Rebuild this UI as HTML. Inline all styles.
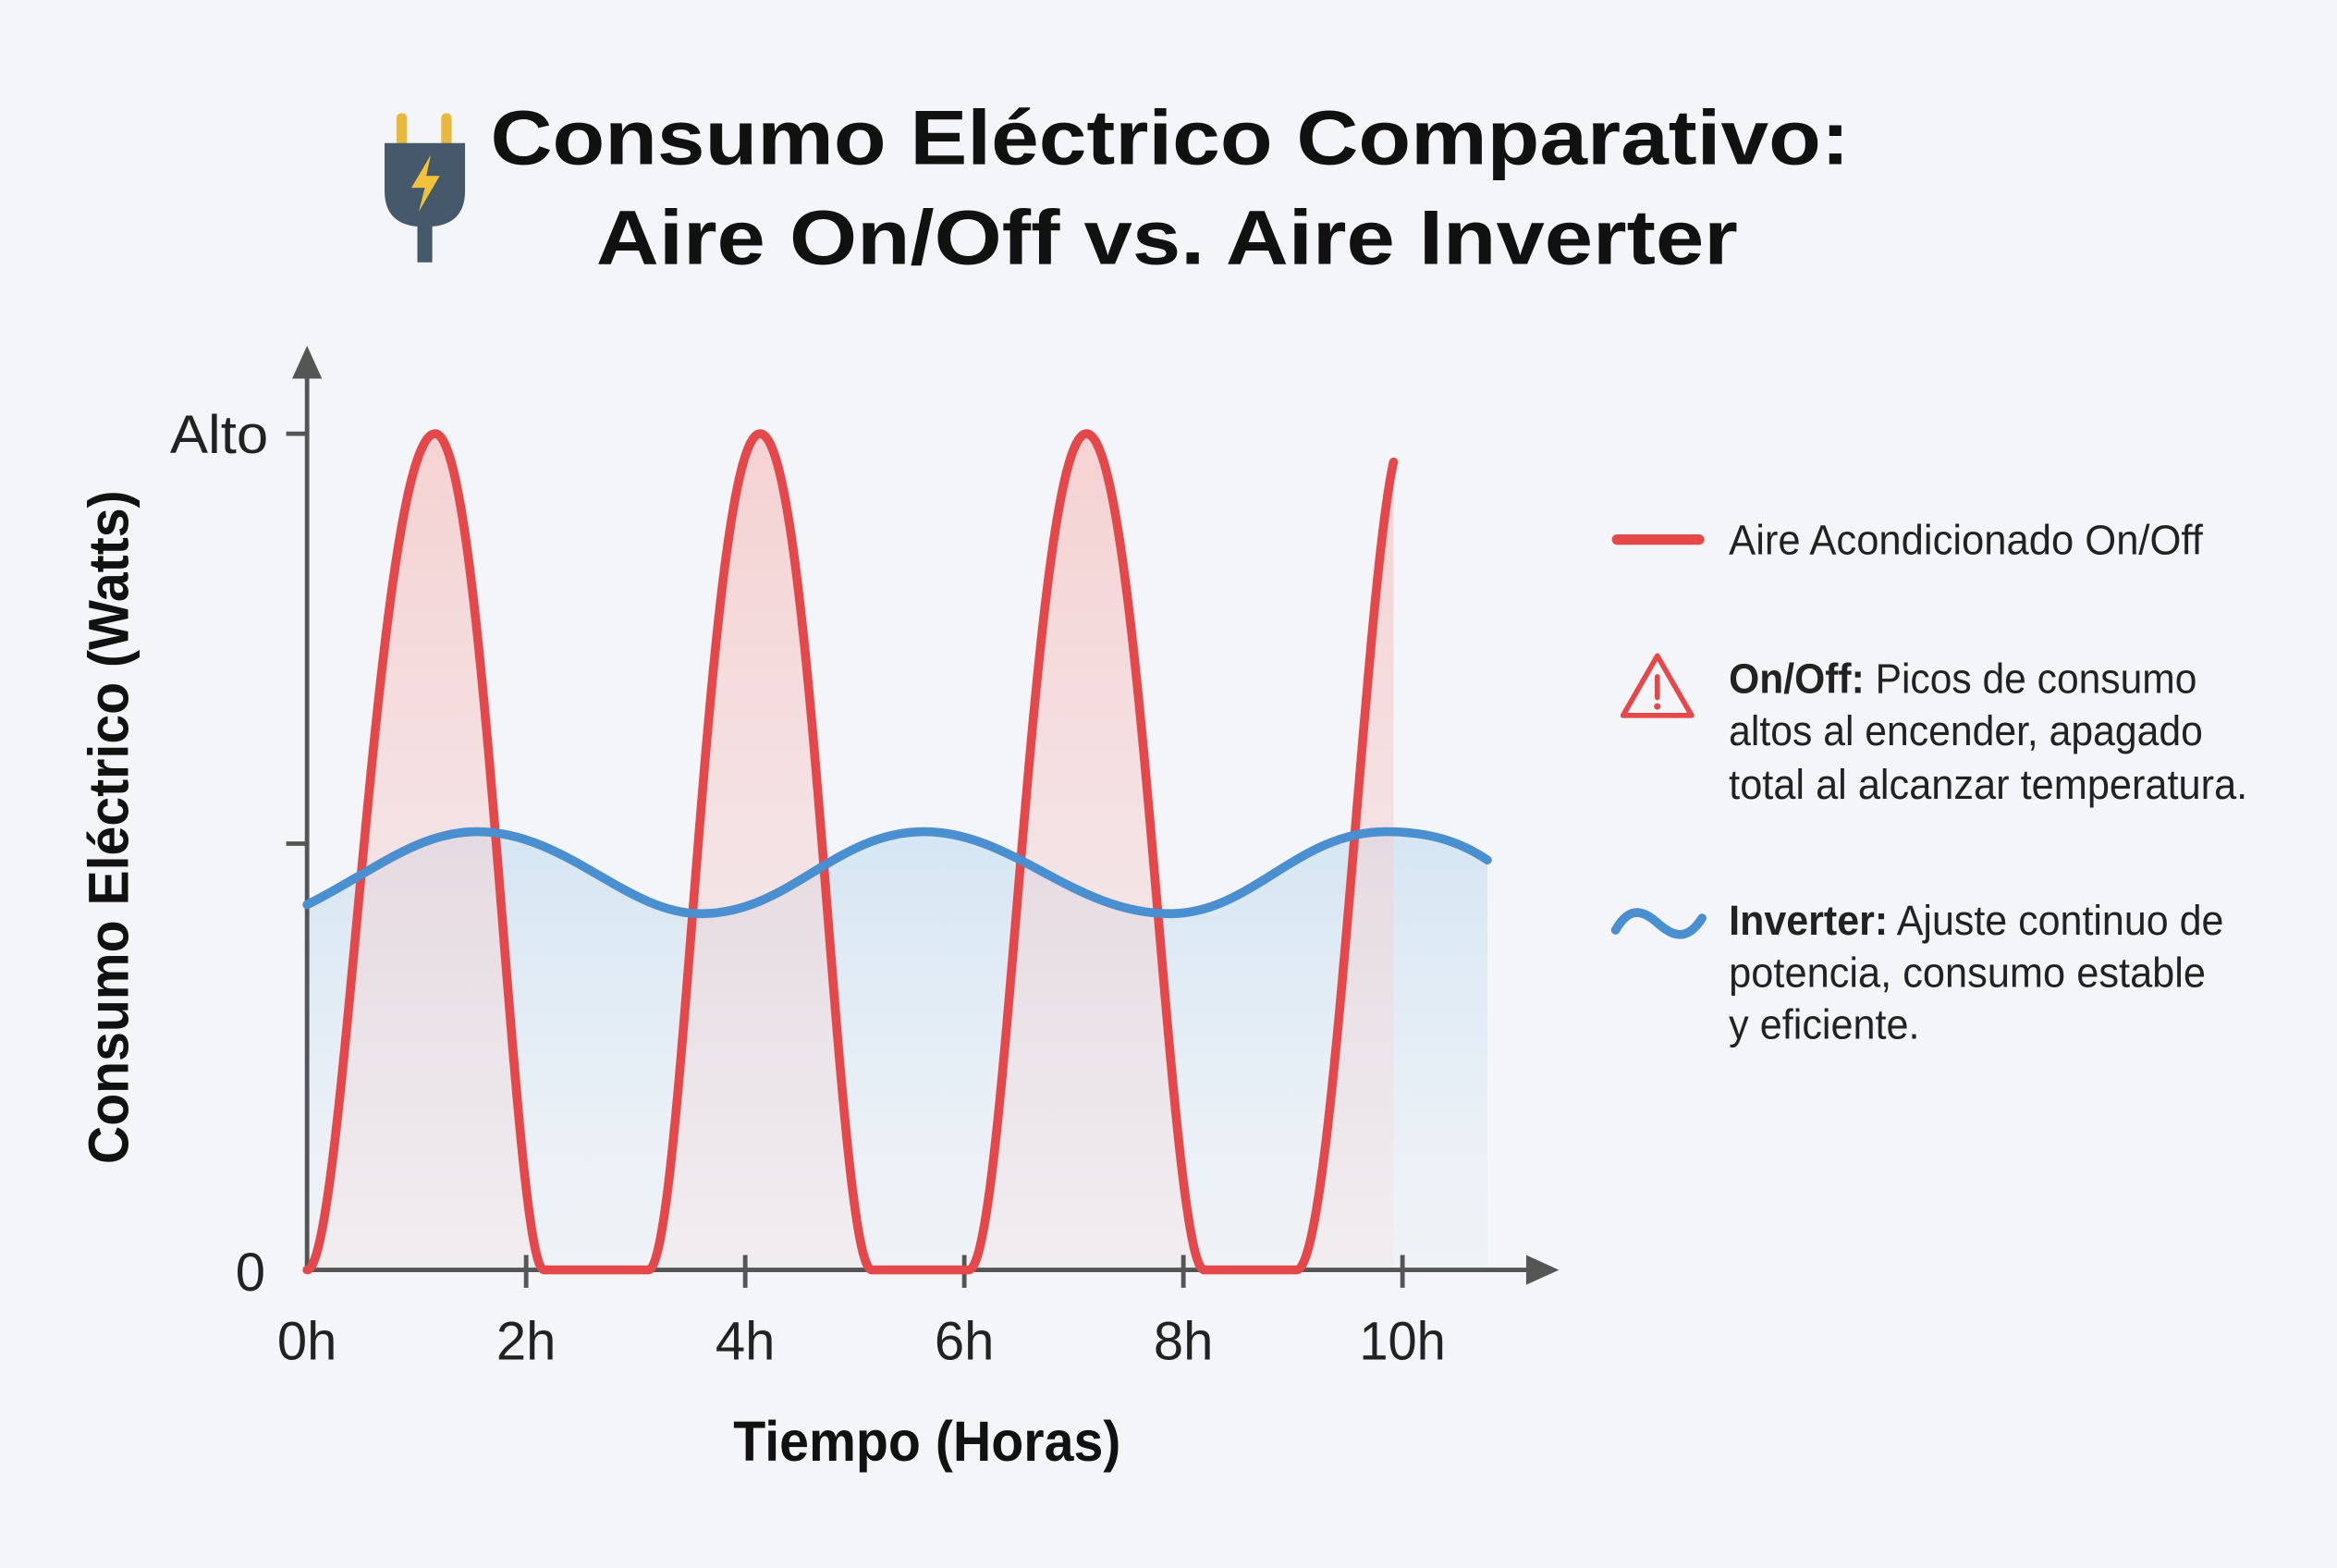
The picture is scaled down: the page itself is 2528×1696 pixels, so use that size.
<!DOCTYPE html>
<html><head><meta charset="utf-8"><style>
html,body{margin:0;padding:0;background:#f3f5f8;}
svg{display:block}
text{font-family:"Liberation Sans",sans-serif;}
</style></head><body>
<svg width="2528" height="1696" viewBox="0 0 1568 1052" xmlns="http://www.w3.org/2000/svg">
<defs>
<linearGradient id="rg" x1="0" y1="0" x2="0" y2="1">
<stop offset="0" stop-color="#f6c9c9" stop-opacity="0.8"/>
<stop offset="1" stop-color="#f6d6d6" stop-opacity="0.2"/>
</linearGradient>
<linearGradient id="bg" x1="0" y1="0" x2="0" y2="1">
<stop offset="0" stop-color="#d4e5f3" stop-opacity="0.95"/>
<stop offset="1" stop-color="#e6eef6" stop-opacity="0.3"/>
</linearGradient>
</defs>
<rect width="1568" height="1052" fill="#f3f5f8"/>
<g>
<rect x="266" y="76" width="7" height="22" rx="3" fill="#e9b93a"/>
<rect x="296" y="76" width="7" height="22" rx="3" fill="#e9b93a"/>
<path d="M258 96 H312 V128 Q312 150 290 152 H280 Q258 150 258 128 Z" fill="#46596b"/>
<rect x="280" y="150" width="10" height="26" fill="#46596b"/>
<path d="M289 104 L276 126 H285 L281 142 L295 118 H286 Z" fill="#f2c23a"/>
</g>
<text x="785" y="110" text-anchor="middle" font-size="52" font-weight="bold" fill="#111" textLength="912" lengthAdjust="spacingAndGlyphs">Consumo Eléctrico Comparativo:</text>
<text x="783" y="177" text-anchor="middle" font-size="52" font-weight="bold" fill="#111" textLength="766" lengthAdjust="spacingAndGlyphs">Aire On/Off vs. Aire Inverter</text>

<path d="M206 607 C250 585 280 558 320 558 C380 558 420 613 470 613 C530 613 560 558 620 558 C680 558 720 613 785 613 C840 613 870 558 930 558 C960 558 980 565 998 577 L998 852 L206 852 Z" fill="url(#bg)"/>
<path d="M206 852 C232 852 252 291 292 291 C326 291 344 852 365 852 Z M435 852 C459 852 474 291 510 291 C546 291 561 852 585 852 Z M650 852 C676 852 692 291 729 291 C766 291 784 852 808 852 Z M870 852 C895 852 915 400 935 310 L935 852 Z" fill="url(#rg)"/>

<g stroke="#555" stroke-width="3" fill="none">
<line x1="206" y1="245" x2="206" y2="852"/>
<line x1="206" y1="852" x2="1030" y2="852"/>
<line x1="192" y1="291" x2="206" y2="291"/>
<line x1="192" y1="566" x2="206" y2="566"/>
<line x1="353" y1="842" x2="353" y2="864"/>
<line x1="500" y1="842" x2="500" y2="864"/>
<line x1="647" y1="842" x2="647" y2="864"/>
<line x1="794" y1="842" x2="794" y2="864"/>
<line x1="941" y1="842" x2="941" y2="864"/>
</g>
<path d="M206 232 L196 254 L216 254 Z" fill="#555"/>
<path d="M1046 852 L1024 842 L1024 862 Z" fill="#555"/>

<path d="M206 852 C232 852 252 291 292 291 C326 291 344 852 365 852 L435 852 C459 852 474 291 510 291 C546 291 561 852 585 852 L650 852 C676 852 692 291 729 291 C766 291 784 852 808 852 L870 852 C895 852 915 400 935 310" fill="none" stroke="#e5484a" stroke-width="6" stroke-linejoin="round" stroke-linecap="round"/>
<path d="M206 607 C250 585 280 558 320 558 C380 558 420 613 470 613 C530 613 560 558 620 558 C680 558 720 613 785 613 C840 613 870 558 930 558 C960 558 980 565 998 577" fill="none" stroke="#4a8fd0" stroke-width="6" stroke-linecap="round"/>

<g font-size="36" fill="#222">
<text x="180" y="304" text-anchor="end" textLength="66" lengthAdjust="spacingAndGlyphs">Alto</text>
<text x="178" y="866" text-anchor="end">0</text>
<text x="206" y="912" text-anchor="middle" textLength="40" lengthAdjust="spacingAndGlyphs">0h</text>
<text x="353" y="912" text-anchor="middle" textLength="40" lengthAdjust="spacingAndGlyphs">2h</text>
<text x="500" y="912" text-anchor="middle" textLength="40" lengthAdjust="spacingAndGlyphs">4h</text>
<text x="647" y="912" text-anchor="middle" textLength="40" lengthAdjust="spacingAndGlyphs">6h</text>
<text x="794" y="912" text-anchor="middle" textLength="40" lengthAdjust="spacingAndGlyphs">8h</text>
<text x="941" y="912" text-anchor="middle" textLength="58" lengthAdjust="spacingAndGlyphs">10h</text>
</g>
<text x="622" y="980" text-anchor="middle" font-size="38" font-weight="bold" fill="#111" textLength="260" lengthAdjust="spacingAndGlyphs">Tiempo (Horas)</text>
<text transform="translate(86 555) rotate(-90)" text-anchor="middle" font-size="38" font-weight="bold" fill="#111" textLength="452" lengthAdjust="spacingAndGlyphs">Consumo Eléctrico (Watts)</text>

<line x1="1085" y1="362" x2="1140" y2="362" stroke="#e5484a" stroke-width="7" stroke-linecap="round"/>
<g font-size="28" fill="#222">
<text x="1160" y="372" textLength="318" lengthAdjust="spacingAndGlyphs">Aire Acondicionado On/Off</text>
<text x="1160" y="465" textLength="314" lengthAdjust="spacingAndGlyphs"><tspan font-weight="bold">On/Off:</tspan> Picos de consumo</text>
<text x="1160" y="500" textLength="318" lengthAdjust="spacingAndGlyphs">altos al encender, apagado</text>
<text x="1160" y="536" textLength="348" lengthAdjust="spacingAndGlyphs">total al alcanzar temperatura.</text>
<text x="1160" y="627" textLength="332" lengthAdjust="spacingAndGlyphs"><tspan font-weight="bold">Inverter:</tspan> Ajuste continuo de</text>
<text x="1160" y="662" textLength="320" lengthAdjust="spacingAndGlyphs">potencia, consumo estable</text>
<text x="1160" y="697" textLength="128" lengthAdjust="spacingAndGlyphs">y eficiente.</text>
</g>
<path d="M1112 440 L1135 480 L1089 480 Z" fill="none" stroke="#e5484a" stroke-width="3.5" stroke-linejoin="round"/>
<line x1="1112" y1="454" x2="1112" y2="468" stroke="#e5484a" stroke-width="3.5" stroke-linecap="round"/>
<circle cx="1112" cy="474" r="2.2" fill="#e5484a"/>
<path d="M1084 624 C1094 606 1104 612 1113 620 C1122 628 1132 632 1142 616" fill="none" stroke="#4a8fd0" stroke-width="6" stroke-linecap="round"/>
</svg>
</body></html>
